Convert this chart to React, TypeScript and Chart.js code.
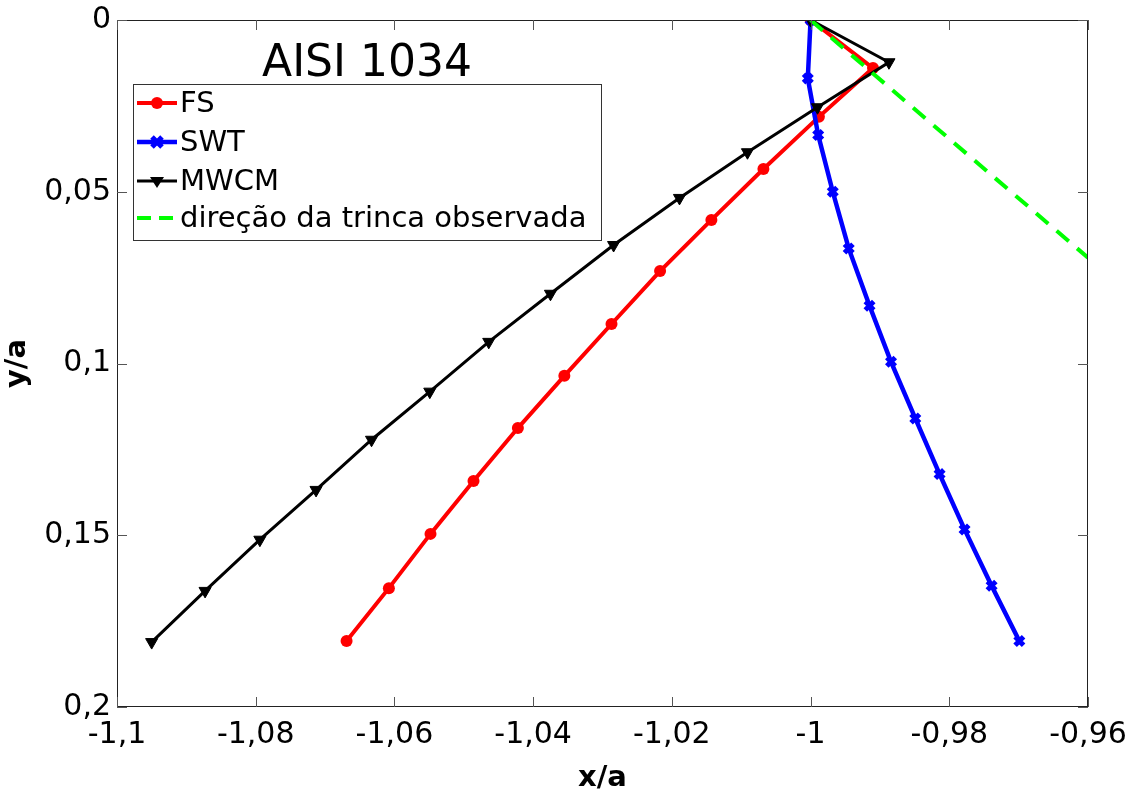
import React, { useEffect, useRef } from "react";
import { Chart, registerables } from "chart.js";

Chart.register(...registerables);

const fsX = [-1.0, -0.991, -0.9988, -1.0068, -1.0143, -1.0217, -1.0287, -1.0355, -1.0422, -1.0486, -1.0548, -1.0608, -1.0669];
const fsY = [0, 0.014, 0.0282, 0.0434, 0.0582, 0.0731, 0.0885, 0.1036, 0.1188, 0.1342, 0.1496, 0.1654, 0.1808];

const swtX = [-1.0, -1.0004, -0.9989, -0.9968, -0.9945, -0.9915, -0.9884, -0.9849, -0.9814, -0.9778, -0.9739, -0.9699];
const swtY = [0, 0.017, 0.0335, 0.05, 0.0665, 0.0832, 0.0995, 0.116, 0.1322, 0.1483, 0.1647, 0.1808];

const mwcmX = [-1.0, -0.9887, -0.999, -1.0091, -1.0189, -1.0284, -1.0375, -1.0464, -1.0549, -1.0633, -1.0713, -1.0794, -1.0873, -1.095];
const mwcmY = [0, 0.0123, 0.0254, 0.0385, 0.0518, 0.0655, 0.0797, 0.0937, 0.1082, 0.1222, 0.1368, 0.1513, 0.1662, 0.1811];

const crackX = [-1.0, -0.96];
const crackY = [0, 0.0692];

const seriesNames = ["FS", "SWT", "MWCM", "direção da trinca observada"];
const titleText = "AISI 1034";
const xTitle = "x/a";
const yTitle = "y/a";

const xTicks = [-1.1, -1.08, -1.06, -1.04, -1.02, -1.0, -0.98, -0.96];
const yTicks = [0, 0.05, 0.1, 0.15, 0.2];

const FONT = "'DejaVu Sans', sans-serif";

const pts = (xs: number[], ys: number[]) => xs.map((x, i) => ({ x, y: ys[i] }));
const fmt = (v: number) => String(Number(Number(v).toFixed(4))).replace(".", ",");

export default function App() {
  const ref = useRef<HTMLCanvasElement | null>(null);

  useEffect(() => {
    document.body.style.margin = "0";
    const canvas = ref.current;
    if (!canvas) return;

    const decorPlugin = {
      id: "decor",
      afterDatasetsDraw(chart: any) {
        const { ctx, chartArea: a, scales } = chart;
        ctx.save();
        ctx.strokeStyle = "#222";
        ctx.lineWidth = 1;
        ctx.strokeRect(a.left + 0.5, a.top + 0.5, a.right - a.left - 1, a.bottom - a.top - 1);
        ctx.strokeStyle = "#555";
        ctx.beginPath();
        xTicks.forEach((t) => {
          const px = Math.round(scales.x.getPixelForValue(t)) + 0.5;
          ctx.moveTo(px, a.bottom);
          ctx.lineTo(px, a.bottom - 10);
          ctx.moveTo(px, a.top);
          ctx.lineTo(px, a.top + 10);
        });
        yTicks.forEach((t) => {
          const py = Math.round(scales.y.getPixelForValue(t)) + 0.5;
          ctx.moveTo(a.left, py);
          ctx.lineTo(a.left + 10, py);
          ctx.moveTo(a.right, py);
          ctx.lineTo(a.right - 10, py);
        });
        ctx.stroke();
        ctx.restore();
      },
      afterDraw(chart: any) {
        const { ctx } = chart;
        ctx.save();
        ctx.fillStyle = "#000";
        ctx.font = `44px ${FONT}`;
        ctx.textAlign = "center";
        ctx.textBaseline = "alphabetic";
        ctx.fillText(titleText, 367, 76);

        const bx = 133, by = 84, bw = 468, bh = 156;
        ctx.fillStyle = "#fff";
        ctx.fillRect(bx, by, bw, bh);
        ctx.strokeStyle = "#333";
        ctx.lineWidth = 1;
        ctx.strokeRect(bx + 0.5, by + 0.5, bw, bh);

        const rowsY = [103, 142, 181, 218];
        const x0 = 137, x1 = 177, mx = 157;
        ctx.font = `29px ${FONT}`;
        ctx.textAlign = "left";
        ctx.textBaseline = "middle";
        rowsY.forEach((ry, i) => {
          ctx.save();
          if (i === 0) {
            ctx.strokeStyle = "#ff0000"; ctx.lineWidth = 4;
            ctx.beginPath(); ctx.moveTo(x0, ry); ctx.lineTo(x1, ry); ctx.stroke();
            ctx.fillStyle = "#ff0000";
            ctx.beginPath(); ctx.arc(mx, ry, 6, 0, Math.PI * 2); ctx.fill();
          } else if (i === 1) {
            ctx.strokeStyle = "#0000ff"; ctx.lineWidth = 4.5;
            ctx.beginPath(); ctx.moveTo(x0, ry); ctx.lineTo(x1, ry); ctx.stroke();
            ctx.lineWidth = 5;
            ctx.beginPath();
            ctx.moveTo(mx - 5, ry - 5); ctx.lineTo(mx + 5, ry + 5);
            ctx.moveTo(mx - 5, ry + 5); ctx.lineTo(mx + 5, ry - 5);
            ctx.stroke();
          } else if (i === 2) {
            ctx.strokeStyle = "#000"; ctx.lineWidth = 3;
            ctx.beginPath(); ctx.moveTo(x0, ry); ctx.lineTo(x1, ry); ctx.stroke();
            ctx.fillStyle = "#000";
            ctx.beginPath();
            ctx.moveTo(mx - 7, ry - 4); ctx.lineTo(mx + 7, ry - 4); ctx.lineTo(mx, ry + 7); ctx.closePath();
            ctx.fill();
          } else {
            ctx.strokeStyle = "#00ff00"; ctx.lineWidth = 4;
            ctx.setLineDash([14, 8]);
            ctx.beginPath(); ctx.moveTo(x0, ry); ctx.lineTo(x1 - 2, ry); ctx.stroke();
          }
          ctx.restore();
          ctx.fillStyle = "#000";
          ctx.fillText(seriesNames[i], 180, ry + 1);
        });
        ctx.restore();
      },
    };

    const chart = new Chart(canvas, {
      type: "scatter",
      data: {
        datasets: [
          {
            label: seriesNames[3],
            data: pts(crackX, crackY),
            showLine: true,
            borderColor: "#00ff00",
            borderWidth: 4,
            borderDash: [16, 11],
            pointRadius: 0,
            order: 0,
          },
          {
            label: seriesNames[2],
            data: pts(mwcmX, mwcmY),
            showLine: true,
            borderColor: "#000000",
            backgroundColor: "#000000",
            borderWidth: 3,
            pointStyle: "triangle",
            rotation: 180,
            pointRadius: 7,
            pointBorderWidth: 1,
            order: 1,
          },
          {
            label: seriesNames[1],
            data: pts(swtX, swtY),
            showLine: true,
            borderColor: "#0000ff",
            backgroundColor: "#0000ff",
            borderWidth: 4.5,
            pointStyle: "crossRot",
            pointRadius: 6,
            pointBorderWidth: 5,
            order: 2,
          },
          {
            label: seriesNames[0],
            data: pts(fsX, fsY),
            showLine: true,
            borderColor: "#ff0000",
            backgroundColor: "#ff0000",
            borderWidth: 4,
            pointStyle: "circle",
            pointRadius: 6,
            pointBorderWidth: 0,
            order: 3,
          },
        ],
      },
      options: {
        animation: false,
        responsive: true,
        maintainAspectRatio: false,
        layout: { padding: { top: 20, right: 54, left: 0, bottom: 0 } },
        plugins: {
          legend: { display: false },
          tooltip: { enabled: false },
        },
        scales: {
          x: {
            type: "linear",
            min: -1.1,
            max: -0.96,
            afterFit: (s: any) => { s.height = 91; s.paddingLeft = 0; s.paddingRight = 0; },
            afterBuildTicks: (s: any) => { s.ticks = xTicks.map((v) => ({ value: v })); },
            grid: { display: false, drawTicks: false },
            border: { display: false },
            ticks: {
              padding: 10,
              color: "#000",
              font: { family: FONT, size: 30 },
              callback: (v: any) => fmt(v),
              maxRotation: 0,
              autoSkip: false,
            },
            title: {
              display: true,
              text: xTitle,
              color: "#000",
              font: { family: FONT, size: 29, weight: "bold" },
              padding: { top: 0, bottom: 2 },
            },
          },
          y: {
            type: "linear",
            reverse: true,
            min: 0,
            max: 0.2,
            afterFit: (s: any) => { s.width = 117; s.paddingTop = 0; s.paddingBottom = 0; },
            afterBuildTicks: (s: any) => { s.ticks = yTicks.map((v) => ({ value: v })); },
            grid: { display: false, drawTicks: false },
            border: { display: false },
            ticks: {
              padding: 6,
              color: "#000",
              font: { family: FONT, size: 30 },
              callback: (v: any) => fmt(v),
              autoSkip: false,
            },
            title: {
              display: true,
              text: yTitle,
              color: "#000",
              font: { family: FONT, size: 29, weight: "bold" },
              padding: { top: 0, bottom: 0 },
            },
          },
        },
      },
      plugins: [decorPlugin],
    });

    return () => chart.destroy();
  }, []);

  return (
    <div style={{ position: "relative", width: 1142, height: 798 }}>
      <canvas ref={ref} />
    </div>
  );
}
